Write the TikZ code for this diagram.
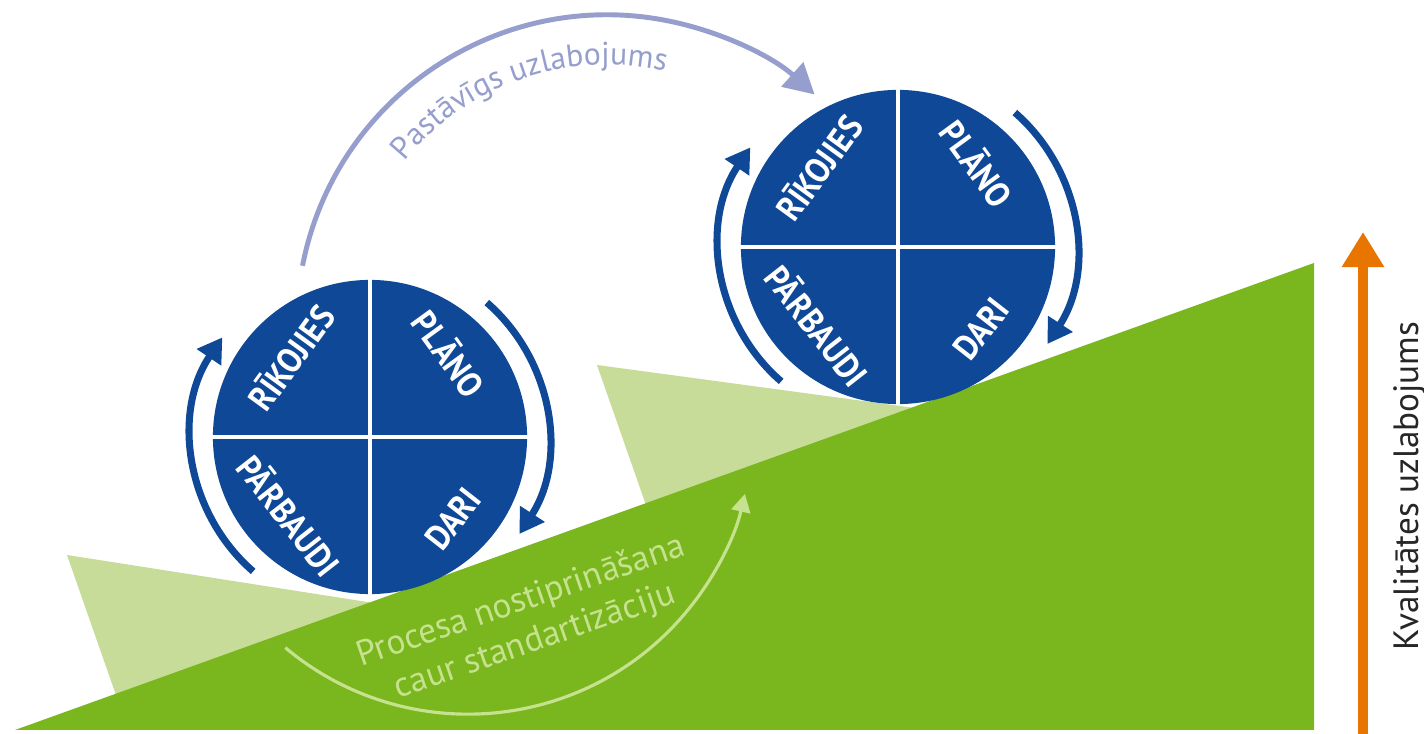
\documentclass[tikz,border=0pt]{standalone}
\usepackage{fontspec}
\setmainfont{PT Sans}
\newfontfamily\wheelfont[FakeStretch=0.9]{PT Sans}
\usetikzlibrary{arrows.meta,decorations.text}
\definecolor{PDCABlue}{RGB}{14,72,150}
\definecolor{SlopeGreen}{RGB}{122,182,30}
\definecolor{SlopeLight}{RGB}{199,220,152}
\definecolor{ArcLilac}{RGB}{150,158,205}
\definecolor{ArcLight}{RGB}{198,226,142}
\definecolor{QualOrange}{HTML}{E87500}
\tikzset{
  wheel/.style={circle, fill=PDCABlue, minimum size=3.14cm, inner sep=0pt},
  spoke/.style={draw=white, line width=0.9pt},
  quad/.style={text=white, inner sep=0pt, font=\wheelfont\bfseries\fontsize{10}{11}\selectfont},
  cyc/.style={-{Triangle[length=2.4mm,width=2.8mm]}, line width=2pt, draw=PDCABlue},
  gain/.style={-{Triangle[length=3mm,width=3.2mm]}, line width=1.4pt, draw=ArcLilac},
  hold/.style={-{Triangle[length=1.8mm,width=1.9mm]}, line width=0.9pt, draw=ArcLight},
  qarr/.style={-{Triangle[length=3.5mm,width=4mm]}, line width=2.8pt, draw=QualOrange}
}

\begin{document}
\begin{tikzpicture}[x=0.01cm, y=0.01cm]
\fill[white] (0,0) rectangle (1424,734);
\useasboundingbox (0,0) rectangle (1424,734);
\fill[SlopeLight] (67,179) -- (380,130) -- (117,36) -- cycle;
\fill[SlopeLight] (597,369) -- (915,326) -- (647,226) -- cycle;
\fill[SlopeGreen] (15,4) -- (1314,4) -- (1314,471) -- cycle;
\node[wheel] (wheelA) at (370,297) {};
\node[wheel] (wheelB) at (898,487) {};
\foreach \w in {wheelA,wheelB}{
  \draw[spoke] (\w.north) -- (\w.south);
  \draw[spoke] (\w.west) -- (\w.east);
  \node[quad, rotate=54] (\w-act) at ([shift={(-80,80)}]\w.center) {RĪKOJIES};
  \node[quad, rotate=-54] (\w-plan) at ([shift={(80,84)}]\w.center) {PLĀNO};
  \node[quad, rotate=-52] (\w-check) at ([shift={(-80,-78)}]\w.center) {PĀRBAUDI};
  \node[quad, rotate=52] (\w-do) at ([shift={(83,-82)}]\w.center) {DARI};
  \draw[cyc] ([shift={(49:1.78cm)}]\w.center) arc[start angle=49, end angle=-33, radius=1.78cm];
  \draw[cyc] ([shift={(229:1.78cm)}]\w.center) arc[start angle=229, end angle=146, radius=1.78cm];
}
\coordinate (gainc) at (607,409);
\draw[gain] ([shift={(169:3.1cm)}]gainc) arc[start angle=169, end angle=48, radius=3.1cm];
\path[decorate, decoration={text along path, text align=center, text={|\color{ArcLilac}\fontsize{9}{10}\selectfont|Pastāvīgs uzlabojums}}] ([shift={(150:2.6cm)}]gainc) arc[start angle=150, end angle=68, radius=2.6cm];
\coordinate (holdc) at (468,304);
\draw[hold] ([shift={(230:2.84cm)}]holdc) arc[start angle=230, end angle=347, radius=2.84cm];
\node[rotate=19, align=center, text=ArcLight, font=\fontsize{10}{12}\selectfont] (holdtxt) at (528,112) {Procesa nostiprināšana\\caur standartizāciju};
\coordinate (qbase) at (1363,0);
\coordinate (qtop) at (1363,502);
\draw[qarr] (qbase) -- (qtop);
\node[rotate=90, text=black!85, font=\fontsize{10}{12}\selectfont] (qtxt) at (1410,248) {Kvalitātes uzlabojums};
\end{tikzpicture}
\end{document}
